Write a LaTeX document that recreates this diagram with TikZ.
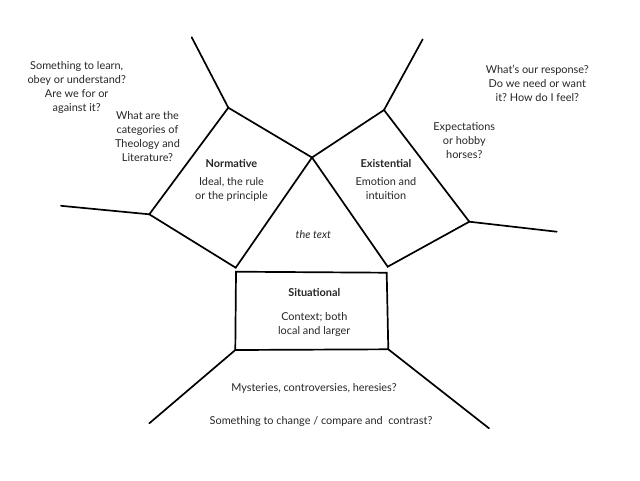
\documentclass[tikz,border=0pt]{standalone}
\usepackage{fontspec}
\setmainfont{Lato}
\frenchspacing
\begin{document}
\begin{tikzpicture}[x=1pt,y=-1pt,
  edge/.style={line width=1.7pt, line join=miter, line cap=round},
  lbl/.style={align=center, font=\fontsize{10.9}{14}\selectfont, inner sep=0pt, text=black!85},
  ttl/.style={lbl, font=\fontsize{10.9}{14}\selectfont\bfseries}]
\useasboundingbox (0,0) rectangle (640,480);
% key points
\coordinate (apex) at (312,157.5);
\coordinate (nt) at (228.3,107.7);
\coordinate (nl) at (149.3,214.3);
\coordinate (nb) at (235.7,267.7);
\coordinate (et) at (384,110);
\coordinate (er) at (469.3,221.7);
\coordinate (eb) at (387.7,266.7);
\coordinate (ntop) at (191.7,37.3);
\coordinate (nleft) at (61,205.8);
\coordinate (etop) at (422.7,39.3);
\coordinate (eright) at (556.7,231.7);
\coordinate (stl) at (236,271.7);
\coordinate (str) at (386.7,272.7);
\coordinate (sbr) at (388.3,349.3);
\coordinate (sbl) at (235.3,350);
\coordinate (bl) at (149.3,423.3);
\coordinate (br) at (489,428.3);
% polygons
\draw[edge] (nt) -- (apex) -- (nb) -- (nl) -- cycle;
\draw[edge] (et) -- (er) -- (eb) -- (apex) -- cycle;
\draw[edge] (stl) -- (str) -- (sbr) -- (sbl) -- cycle;
% spokes
\draw[edge] (ntop) -- (nt);
\draw[edge] (nleft) -- (nl);
\draw[edge] (etop) -- (et);
\draw[edge] (eright) -- (er);
\draw[edge] (sbl) -- (bl);
\draw[edge] (sbr) -- (br);
% texts
\node[ttl] (normt) at (231.5,163.5) {Normative};
\node[lbl] (normd) at (231.5,189) {Ideal, the rule\\or the principle};
\node[ttl] (exist) at (386,163.5) {Existential};
\node[lbl] (existd) at (386,189) {Emotion and\\intuition};
\node[lbl, font=\fontsize{10.9}{14}\selectfont\itshape] (txt) at (313.3,234.5) {the text};
\node[ttl] (sit) at (314.3,292.5) {Situational};
\node[lbl] (sitd) at (314.3,324.5) {Context; both\\local and larger};
\node[lbl] (q1) at (76.7,87) {Something to learn,\\obey or understand?\\Are we for or\\against it?};
\node[lbl] (q2) at (147.5,137) {What are the\\categories of\\Theology and\\Literature?};
\node[lbl] (q3) at (464.3,140.5) {Expectations\\or hobby\\horses?};
\node[lbl] (q4) at (537.3,83.2) {What's our response?\\Do we need or want\\it? How do I feel?};
\node[lbl] (q5) at (314,388.3) {Mysteries, controversies, heresies?};
\node[lbl] (q6) at (321,421) {Something to change / compare and~ contrast?};
\end{tikzpicture}
\end{document}
